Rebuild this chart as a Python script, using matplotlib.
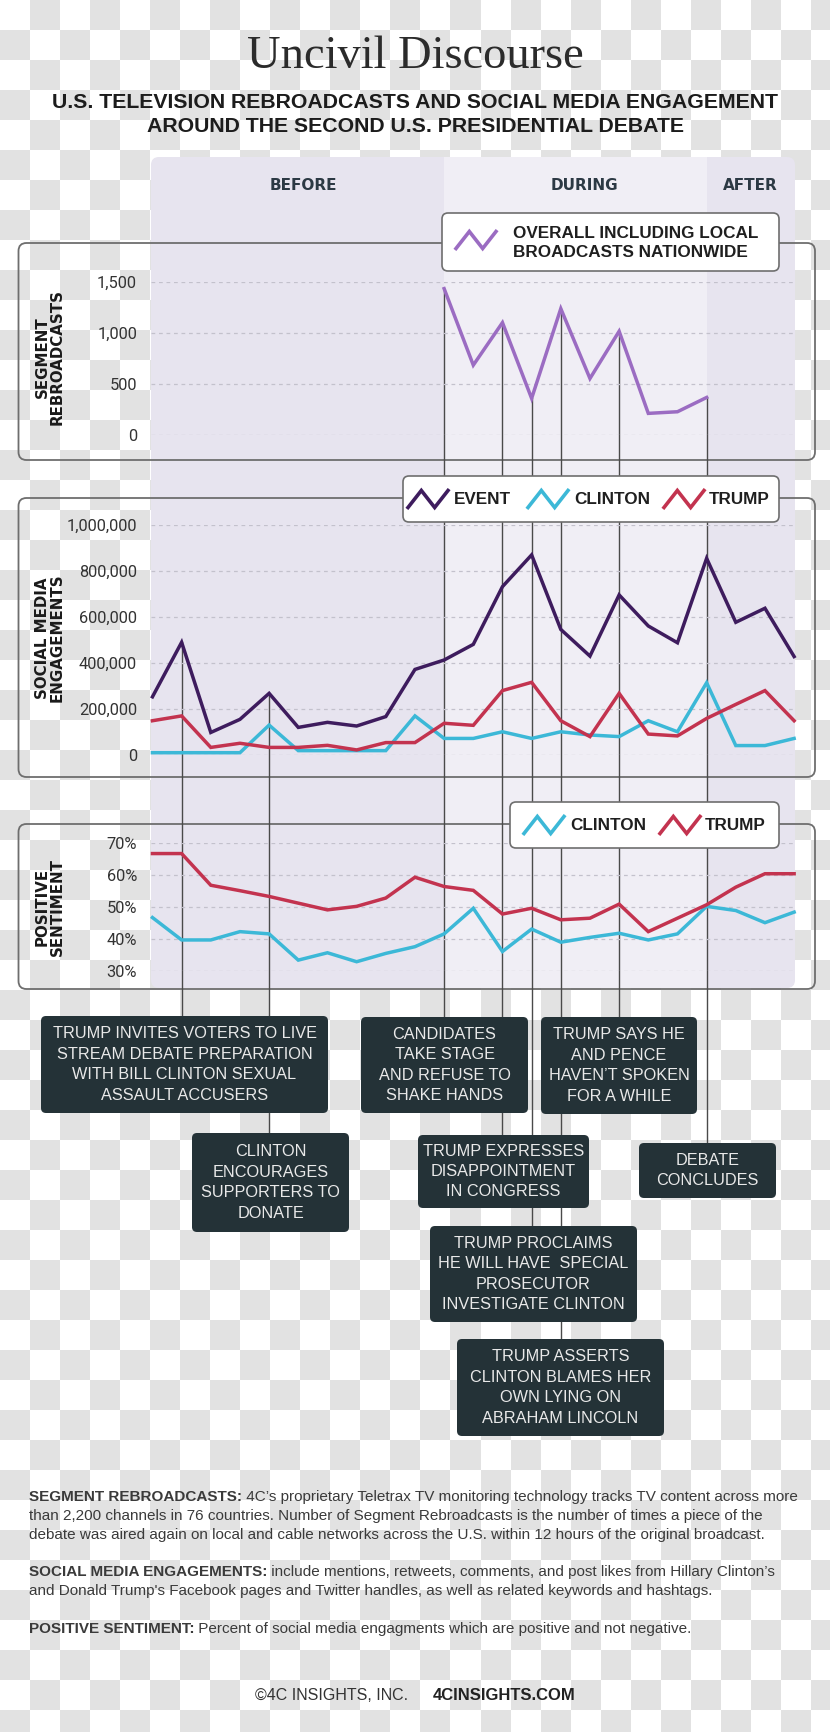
import numpy as np
import matplotlib
matplotlib.use('Agg')
import matplotlib.pyplot as plt
from matplotlib.patches import FancyBboxPatch, Rectangle
from matplotlib.colors import ListedColormap
from matplotlib.ticker import FuncFormatter

# ---- data -------------------------------------------------------------
slots = np.arange(23)                       # time slots around the debate
rebroadcast_slots = np.arange(10, 20)
rebroadcasts = [1435, 685, 1102, 359, 1239, 554, 1017, 212, 228, 368]

event_eng = [253000, 490000, 98000, 155000, 268000, 120000, 142000, 126000,
             167000, 372000, 413000, 481000, 732000, 870000, 546000, 430000,
             696000, 561000, 488000, 855000, 577000, 638000, 428000]
clinton_eng = [10000, 10000, 10000, 10000, 130000, 19000, 19000, 19000,
               19000, 170000, 72000, 72000, 101000, 72000, 101000, 87000,
               80000, 149000, 101000, 314000, 41000, 41000, 72000]
trump_eng = [149000, 170000, 33000, 51000, 33000, 33000, 42000, 22000,
             54000, 54000, 138000, 129000, 280000, 316000, 149000, 80000,
             268000, 91000, 83000, 159000, 220000, 280000, 149000]

clinton_sent = [46.7, 39.7, 39.7, 42.3, 41.6, 33.4, 35.7, 32.9, 35.5, 37.6,
                41.6, 49.6, 36.1, 43.1, 39.0, 40.5, 41.8, 39.7, 41.6, 50.2,
                48.9, 45.1, 48.4]
trump_sent = [66.7, 66.7, 56.8, 55.1, 53.3, 51.2, 49.1, 50.2, 52.8, 59.3,
              56.4, 55.2, 47.8, 49.6, 46.0, 46.5, 50.9, 42.3, 46.5, 50.7,
              56.2, 60.4, 60.4]

periods = ['BEFORE', 'DURING', 'AFTER']
period_bounds = [0, 10, 19, 22]

event_slots = [1, 4, 10, 12, 13, 14, 16, 19]
event_notes = [
    'TRUMP INVITES VOTERS TO LIVE\nSTREAM DEBATE PREPARATION\nWITH BILL CLINTON SEXUAL\nASSAULT ACCUSERS',
    'CLINTON\nENCOURAGES\nSUPPORTERS TO\nDONATE',
    'CANDIDATES\nTAKE STAGE\nAND REFUSE TO\nSHAKE HANDS',
    'TRUMP EXPRESSES\nDISAPPOINTMENT\nIN CONGRESS',
    'TRUMP PROCLAIMS\nHE WILL HAVE  SPECIAL\nPROSECUTOR\nINVESTIGATE CLINTON',
    'TRUMP ASSERTS\nCLINTON BLAMES HER\nOWN LYING ON\nABRAHAM LINCOLN',
    'TRUMP SAYS HE\nAND PENCE\nHAVEN\u2019T SPOKEN\nFOR A WHILE',
    'DEBATE\nCONCLUDES',
]
# where each note box sits on the page (left, top, right, bottom in px)
note_boxes = [(41, 1016, 328, 1113), (192, 1133, 349, 1232),
              (361, 1017, 528, 1113), (418, 1135, 589, 1208),
              (430, 1226, 637, 1322), (457, 1339, 664, 1436),
              (541, 1017, 697, 1114), (639, 1143, 776, 1198)]

# ---- style ------------------------------------------------------------
C_REBROAD = '#9b6cc2'
C_EVENT = '#3e1c5e'
C_CLINTON = '#3cb8d7'
C_TRUMP = '#c3334f'
LAV_DARK = '#e7e4ef'
LAV_LIGHT = '#f0eef5'
FRAME = '#6e6e6e'
NOTE_BG = '#243237'
SANS = 'Liberation Sans'

W, H = 830, 1732
fig = plt.figure(figsize=(W / 100, H / 100), dpi=100)

bg = fig.add_axes([0, 0, 1, 1])


def panel_axes(top, bottom, left=151, right=795):
    ax = fig.add_axes([left / W, 1 - bottom / H, (right - left) / W, (bottom - top) / H])
    ax.patch.set_alpha(0)
    for s in ax.spines.values():
        s.set_visible(False)
    ax.set_xlim(-0.05, 22.03)
    ax.tick_params(axis='x', length=0, labelbottom=False)
    ax.tick_params(axis='y', length=0, pad=10, labelcolor='#333333', labelsize=11.8)
    ax.grid(axis='y', color='#c3c1cc', lw=0.9, ls=(0, (3, 3)))
    ax.set_axisbelow(True)
    return ax


ax1 = panel_axes(282, 435)
ax2 = panel_axes(525, 755)
ax3 = panel_axes(843, 971)
fg = fig.add_axes([0, 0, 1, 1])


def fix_limits():
    for a in (bg, fg):
        a.set_xlim(0, W)
        a.set_ylim(H, 0)


for a in (bg, fg):
    a.axis('off')

# checkerboard backdrop
nr, nc = int(np.ceil(H / 30)), int(np.ceil(W / 30))
checker = np.add.outer(np.arange(nr), np.arange(nc)) % 2
bg.imshow(checker, cmap=ListedColormap(['white', '#e2e2e2']), aspect='auto',
          extent=(0, nc * 30, nr * 30, 0), interpolation='nearest', zorder=0)
fix_limits()


def to_px(trans, x, y):
    return bg.transData.inverted().transform(trans.transform((x, y)))


def rounded(x0, y0, x1, y1, r, **kw):
    return FancyBboxPatch((x0, y0), x1 - x0, y1 - y0,
                          boxstyle=f'round,pad=0,rounding_size={r}', **kw)


# lavender period bands
xl = to_px(ax1.transAxes, 0, 0)[0]
xr = to_px(ax1.transAxes, 1, 0)[0]
bg.add_patch(rounded(xl, 157, xr, 988, 8, fc=LAV_DARK, ec='none', zorder=1))
xd0 = to_px(ax1.transData, period_bounds[1], 0)[0]
xd1 = to_px(ax1.transData, period_bounds[2], 0)[0]
bg.add_patch(Rectangle((xd0, 157), xd1 - xd0, 988 - 157, fc=LAV_LIGHT, ec='none', zorder=1))
for name, xc in zip(periods, [303, 584, 750]):
    bg.text(xc, 186, name, ha='center', va='center', fontsize=11,
            fontweight='bold', family='DejaVu Sans', color='#2c3944', zorder=3)

# panel frames
for top, bottom in [(243, 460), (498, 777), (824, 989)]:
    bg.add_patch(rounded(18.5, top, 815, bottom, 8, fc='none', ec=FRAME, lw=1.3, zorder=2))

for label, yc in [('SEGMENT\nREBROADCASTS', 357), ('SOCIAL MEDIA\nENGAGEMENTS', 638),
                  ('POSITIVE\nSENTIMENT', 907)]:
    bg.text(50, yc, label, rotation=90, ha='center', va='center', multialignment='center',
            fontsize=10.8, fontweight='bold', family='DejaVu Sans', color='#1a1a1a',
            linespacing=0.98)

# ---- data lines ---------------------------------------------------------
lw = 2.5
ax1.plot(rebroadcast_slots, rebroadcasts, color=C_REBROAD, lw=lw, clip_on=False,
         solid_joinstyle='miter')
ax1.set_ylim(0, 1500)
ax1.set_yticks([0, 500, 1000, 1500])

ax2.plot(slots, event_eng, color=C_EVENT, lw=lw, clip_on=False, solid_joinstyle='miter')
ax2.plot(slots, clinton_eng, color=C_CLINTON, lw=lw, clip_on=False, solid_joinstyle='miter')
ax2.plot(slots, trump_eng, color=C_TRUMP, lw=lw, clip_on=False, solid_joinstyle='miter')
ax2.set_ylim(0, 1000000)
ax2.set_yticks(np.arange(0, 1000001, 200000))

ax3.plot(slots, clinton_sent, color=C_CLINTON, lw=lw, clip_on=False, solid_joinstyle='miter')
ax3.plot(slots, trump_sent, color=C_TRUMP, lw=lw, clip_on=False, solid_joinstyle='miter')
ax3.set_ylim(30, 70)
ax3.set_yticks([30, 40, 50, 60, 70])

for a in (ax1, ax2):
    a.yaxis.set_major_formatter(FuncFormatter(lambda v, p: f'{v:,.0f}'))
ax3.yaxis.set_major_formatter(FuncFormatter(lambda v, p: f'{v:.0f}%'))
for a in (ax1, ax2, ax3):
    for t in a.get_yticklabels():
        t.set_family(['Roboto', 'DejaVu Sans'])

# ---- event call-outs ---------------------------------------------------
for slot, note, (x0, y0, x1, y1) in zip(event_slots, event_notes, note_boxes):
    if slot in rebroadcast_slots:
        val = rebroadcasts[list(rebroadcast_slots).index(slot)]
        px, py = to_px(ax1.transData, slot, val)
    else:
        px, py = to_px(ax2.transData, slot, event_eng[slot])
    bg.plot([px, px], [py, (y0 + y1) / 2], color='#4a4a4a', lw=1.0, zorder=3)
    bg.add_patch(rounded(x0, y0, x1, y1, 5, fc=NOTE_BG, ec='none', zorder=4))
    bg.text((x0 + x1) / 2, (y0 + y1) / 2, note, ha='center', va='center',
            multialignment='center', fontsize=11.7, family=SANS, color='#e9e9e9',
            linespacing=1.45, zorder=5)

# ---- legends ------------------------------------------------------------
def zigzag(x0, yc, color, w=40, h=17):
    fg.plot([x0, x0 + w / 3, x0 + 2 * w / 3, x0 + w],
            [yc + h / 2, yc - h / 2, yc + h / 2, yc - h / 2],
            color=color, lw=2.6, solid_joinstyle='miter', zorder=6)


def legend_text(x, y, s):
    fg.text(x, y, s, ha='left', va='center', fontsize=12.3, fontweight='bold',
            family=SANS, color='#1f1f1f', linespacing=1.4, zorder=6)


fg.add_patch(rounded(442, 213, 779, 271, 6, fc='white', ec=FRAME, lw=1.2, zorder=5))
zigzag(456, 240, C_REBROAD)
legend_text(513, 243, 'OVERALL INCLUDING LOCAL\nBROADCASTS NATIONWIDE')

fg.add_patch(rounded(403, 476, 779, 522, 6, fc='white', ec=FRAME, lw=1.2, zorder=5))
for x_icon, x_txt, col, name in [(408, 454, C_EVENT, 'EVENT'), (528, 574, C_CLINTON, 'CLINTON'),
                                 (664, 709, C_TRUMP, 'TRUMP')]:
    zigzag(x_icon, 499, col)
    legend_text(x_txt, 500, name)

fg.add_patch(rounded(510, 802, 779, 848, 6, fc='white', ec=FRAME, lw=1.2, zorder=5))
for x_icon, x_txt, col, name in [(524, 570, C_CLINTON, 'CLINTON'), (660, 705, C_TRUMP, 'TRUMP')]:
    zigzag(x_icon, 825, col)
    legend_text(x_txt, 826, name)

# ---- titles ---------------------------------------------------------------
bg.text(415, 57, 'Uncivil Discourse', ha='center', va='center', fontsize=33.5,
        family='Liberation Serif', color='#2b2b2b')
bg.text(415, 102, 'U.S. TELEVISION REBROADCASTS AND SOCIAL MEDIA ENGAGEMENT',
        ha='center', va='center', fontsize=15.3, fontweight='bold', family=SANS, color='#1c1c1c')
bg.text(415, 127, 'AROUND THE SECOND U.S. PRESIDENTIAL DEBATE',
        ha='center', va='center', fontsize=15.3, fontweight='bold', family=SANS, color='#1c1c1c')

# ---- footnotes ------------------------------------------------------------
notes = [
    ('SEGMENT REBROADCASTS:', [
        ' 4C\u2019s proprietary Teletrax TV monitoring technology tracks TV content across more',
        'than 2,200 channels in 76 countries. Number of Segment Rebroadcasts is the number of times a piece of the',
        'debate was aired again on local and cable networks across the U.S. within 12 hours of the original broadcast.'],
     1497),
    ('SOCIAL MEDIA ENGAGEMENTS:', [
        ' include mentions, retweets, comments, and post likes from Hillary Clinton\u2019s',
        'and Donald Trump\'s Facebook pages and Twitter handles, as well as related keywords and hashtags.'],
     1572),
    ('POSITIVE SENTIMENT:', [
        ' Percent of social media engagments which are positive and not negative.'],
     1629),
]
fs_note = 10.95
for head, lines, y in notes:
    t = bg.text(29, y, head, ha='left', va='center', fontsize=fs_note, fontweight='bold',
                family=SANS, color='#3a3a3a')
    bg.annotate(lines[0], xy=(1, 0.5), xycoords=t, ha='left', va='center',
                fontsize=fs_note, family=SANS, color='#3a3a3a')
    for i, ln in enumerate(lines[1:], start=1):
        bg.text(29, y + 18.8 * i, ln, ha='left', va='center', fontsize=fs_note,
                family=SANS, color='#3a3a3a')

bg.text(408, 1696, '\u00a94C INSIGHTS, INC.', ha='right', va='center', fontsize=11.5,
        family=SANS, color='#333333')
bg.text(433, 1696, '4CINSIGHTS.COM', ha='left', va='center', fontsize=12,
        fontweight='bold', family=SANS, color='#222222')

fix_limits()
fig.savefig('out.png', dpi=100)
